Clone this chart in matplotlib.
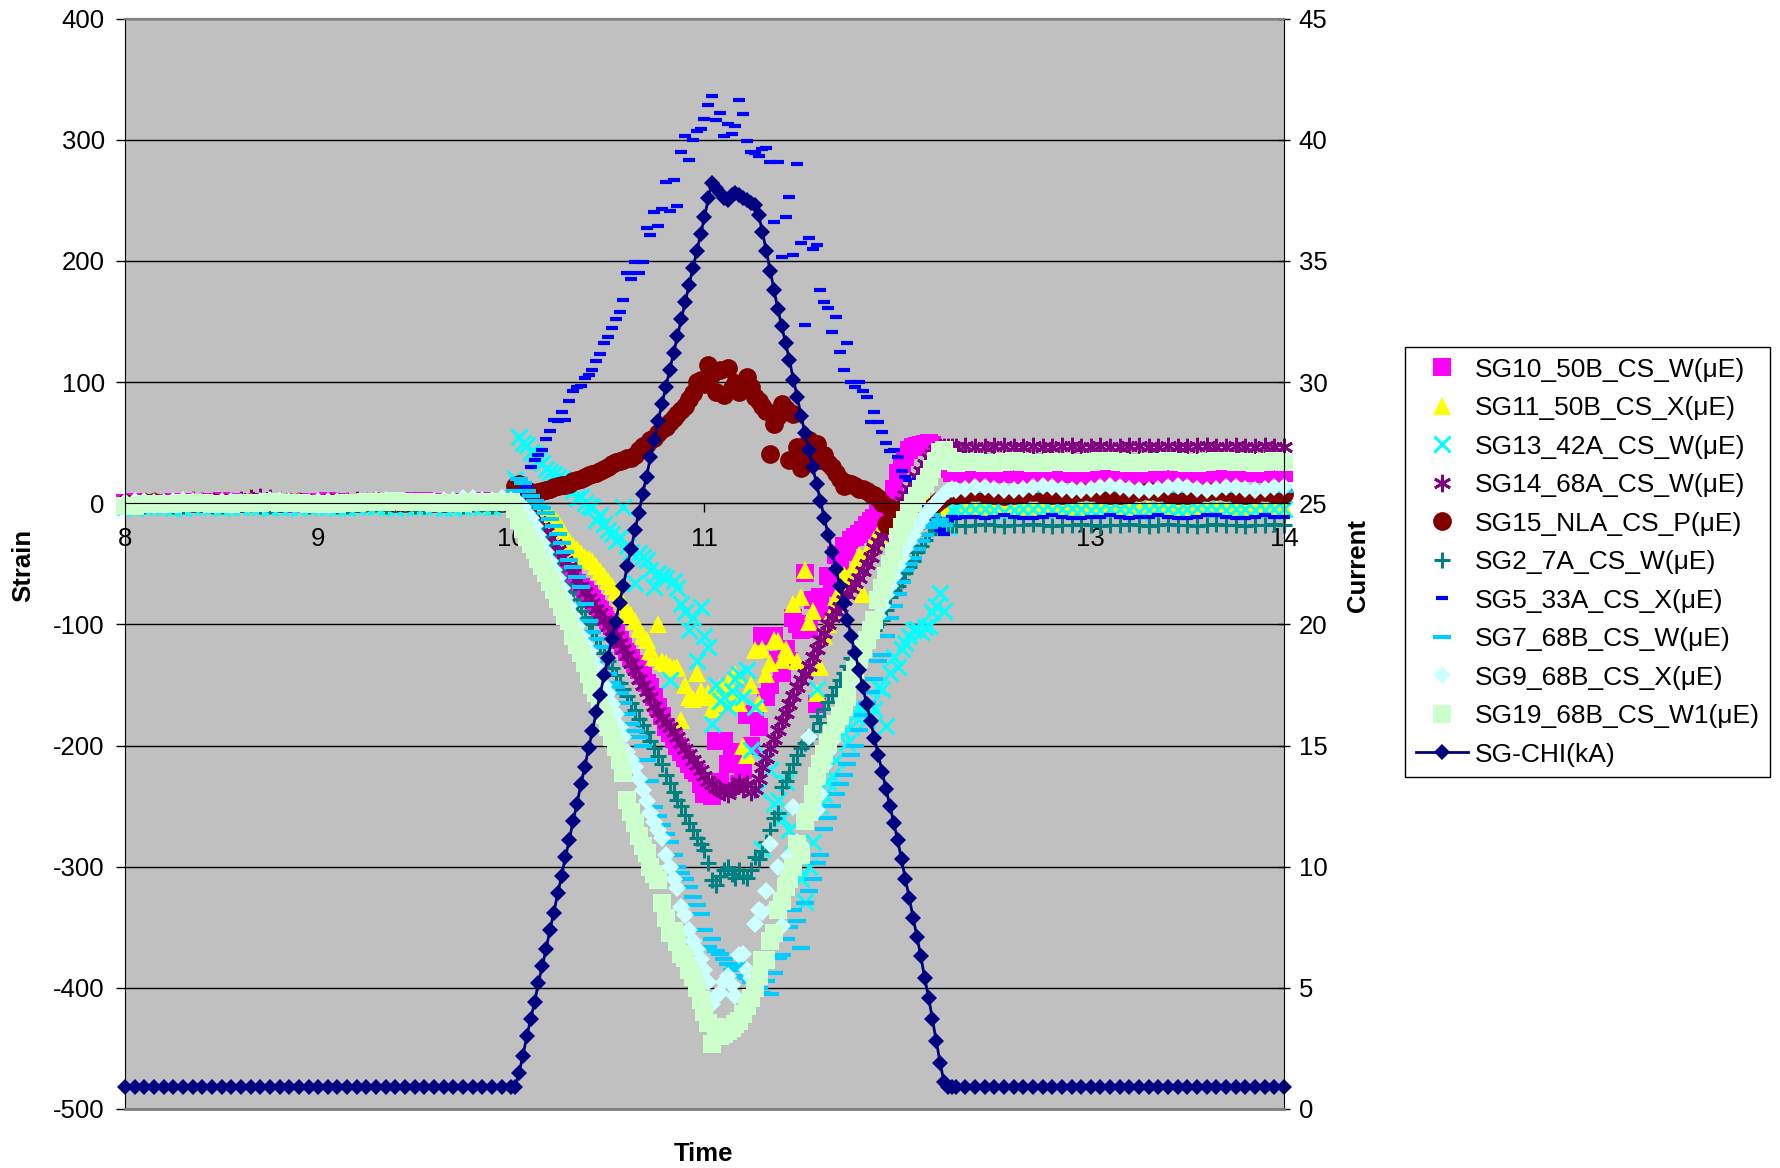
import numpy as np
import matplotlib.pyplot as plt

plt.rcParams['font.family'] = ['Liberation Sans', 'DejaVu Sans']
plt.rcParams['axes.unicode_minus'] = False

# sample times: coarse before/after the pulse, fine during it
time = np.concatenate([np.linspace(8.0, 10.0, 41),
                       np.linspace(10.02, 12.28, 114),
                       np.linspace(12.30, 14.0, 35)])

sg10 = [
    0, 1, 0, -1, 0, 1, 1, 0, 0, 1, 2, 1, 0, 0, 1, 1, 0, -1, 0, 1,
    1, 2, 1, 0, 0, 1, 1, 0, 0, 1, 2, 2, 1, 0, 0, 1, 1, 2, 1, 1, 0,
    0, -2, -4, -8, -13, -20, -26, -32, -38, -43,
    -47, -50, -53, -57, -60, -63, -66, -69, -72, -75,
    -78, -82, -87, -92, -96, -101, -106, -113, -118, -123,
    -128, -133, -138, -143, -148, -152, -160, -168, -176, -185,
    -190, -195, -200, -205, -210, -215, -220, -223, -232, -240,
    -236, -242, -196, -230, -196, -215, -205, -209, -232, -220,
    -175, -200, -174, -185, -110, -160, -150, -110, -129, -140,
    -120, -130, -95, -100, -105, -58, -104, -80, -166, -77,
    -90, -60, -70, -43, -50, -35, -40, -30, -28, -25,
    -22, -18, -15, -12, -8, -6, -3, 2, 12, 25,
    32, 38, 44, 46, 47, 48, 49, 50, 48, 45,
    40, 33, 28, 25,
    25, 24, 23, 23, 24, 25, 24, 23, 22, 23,
    24, 25, 24, 23, 23, 24, 25, 25, 24, 23,
    22, 23, 24, 24, 25, 24, 23, 23, 24, 25,
    26, 25, 24, 24, 25,
]

sg11 = [
    0, 0, -1, -1, 0, 0, -1, 0, 0, -1, -1, 0, 0, 0, -1, -1, 0, 0, 0, -1,
    0, 0, -1, -1, 0, 0, 0, -1, 0, 0, -1, -1, 0, 0, 0, -1, 0, 0, -1, 0, 0,
    0, 0, -1, -1, -2, -3, -4, -6, -8, -10,
    -12, -16, -21, -26, -31, -35, -38, -41, -44, -46,
    -48, -52, -56, -60, -64, -68, -73, -78, -83, -88,
    -92, -97, -104, -110, -113, -122, -127, -100, -130, -132,
    -134, -136, -135, -179, -150, -160, -162, -140, -155, -160,
    -157, -170, -165, -152, -160, -148, -155, -141, -165, -200,
    -208, -150, -121, -165, -120, -141, -132, -113, -114, -129,
    -120, -125, -83, -130, -77, -55, -98, -89, -157, -135,
    -110, -100, -90, -77, -75, -59, -62, -66, -50, -43,
    -75, -40, -35, -30, -25, -20, -15, -10, -6, -3,
    -2, -1, 0, 1, 2, 2, 2, 1, 0, -1,
    -2, -2, -3, -3,
    -2, -3, -3, -2, -3, -3, -4, -3, -2, -3,
    -3, -2, -3, -3, -4, -3, -3, -2, -3, -3,
    -2, -3, -3, -4, -3, -3, -2, -3, -3, -2,
    -3, -3, -4, -3, -3,
]

sg13 = [
    -3, -4, -3, -2, -3, -4, -4, -3, -2, -3, -4, -3, -3, -2, -3, -4, -3, -3, -4, -3,
    -2, -3, -4, -4, -3, -2, -3, -3, -4, -3, -3, -2, -3, -4, -4, -3, -2, -3, -3, -2, -1,
    20, 55, 50, 48, 42, 41, 36, 33, 28, 26,
    24, 22, 20, 18, 16, 10, 4, 5, 0, -2,
    -3, -14, -10, -17, -22, -25, -31, -28, -3, -35,
    -40, -66, -41, -44, -47, -55, -69, -58, -60, -62,
    -146, -64, -70, -83, -90, -105, -95, -130, -86, -110,
    -119, -182, -150, -163, -160, -168, -155, -145, -141, -160,
    -138, -204, -168, -237, -285, -208, -220, -248, -245, -260,
    -230, -270, -290, -300, -310, -329, -300, -280, -153, -250,
    -240, -230, -225, -212, -181, -190, -198, -185, -175, -168,
    -173, -179, -165, -170, -152, -153, -184, -140, -127, -135,
    -120, -115, -110, -105, -104, -106, -102, -101, -90, -85,
    -74, -89, -20, -6,
    -5, -6, -5, -5, -6, -7, -6, -5, -5, -6,
    -6, -5, -4, -5, -6, -6, -5, -5, -6, -7,
    -6, -5, -5, -6, -5, -4, -5, -6, -6, -5,
    -5, -6, -6, -5, -5,
]

sg14 = [
    1, 1, 2, 2, 1, 1, 2, 3, 2, 1, 1, 2, 3, 4, 5, 4, 3, 2, 2, 1,
    1, 1, 2, 2, 3, 2, 1, 1, 2, 2, 2, 1, 1, 2, 2, 3, 2, 1, 1, 1, 1,
    0, -1, -2, -4, -6, -10, -15, -20, -24, -29,
    -34, -39, -44, -48, -53, -58, -63, -68, -73, -78,
    -82, -87, -91, -96, -101, -105, -110, -115, -120, -125,
    -132, -138, -145, -150, -155, -160, -167, -172, -177, -181,
    -185, -189, -193, -198, -203, -207, -212, -216, -220, -225,
    -229, -232, -235, -237, -238, -240, -236, -234, -230, -236,
    -232, -238, -236, -228, -218, -210, -202, -195, -187, -180,
    -173, -166, -159, -152, -146, -141, -134, -127, -120, -113,
    -107, -100, -94, -89, -86, -80, -75, -70, -66, -62,
    -56, -50, -44, -37, -32, -27, -22, -16, -10, -4,
    2, 7, 12, 17, 22, 27, 32, 37, 41, 44,
    46, 46, 46, 46,
    46, 47, 46, 46, 47, 47, 46, 46, 47, 46,
    46, 47, 47, 46, 46, 47, 46, 46, 47, 47,
    46, 46, 47, 46, 46, 47, 47, 46, 46, 47,
    46, 46, 47, 46, 46,
]

sg15 = [
    0, 0, 1, 1, 0, 0, 1, 0, 0, 1, 1, 0, 0, 1, 1, 0, 0, 1, 1, 0,
    0, 1, 1, 0, 0, 1, 2, 1, 0, 0, 1, 1, 0, 0, 1, 1, 2, 1, 1, 0, 2,
    14, 16, 12, 10, 9, 8, 9, 10, 11, 12,
    13, 14, 15, 15, 16, 18, 19, 20, 22, 23,
    24, 25, 27, 28, 30, 32, 34, 35, 36, 37,
    37, 40, 44, 47, 49, 52, 54, 58, 61, 63,
    67, 70, 74, 77, 80, 86, 91, 100, 102, 98,
    114, 107, 92, 110, 89, 112, 95, 99, 92, 97,
    104, 96, 88, 84, 80, 76, 41, 65, 72, 82,
    78, 36, 74, 46, 29, 40, 52, 48, 49, 36,
    40, 33, 30, 25, 20, 14, 17, 16, 14, 12,
    12, 10, 8, 7, 4, 0, -17, -4, -6, -8,
    -5, -10, -12, -14, -12, -14, -10, -6, -3, 0,
    3, 5, 7, 8,
    7, 8, 9, 8, 7, 6, 7, 8, 9, 8,
    7, 7, 8, 9, 9, 8, 7, 7, 8, 9,
    10, 9, 8, 7, 7, 8, 9, 10, 9, 8,
    7, 8, 9, 8, 8,
]

sg2 = [
    -1, -1, -2, -1, -1, -2, -2, -1, -1, -2, -2, -1, -1, -1, -2, -2, -1, -1, -1, -2,
    -1, -1, -2, -2, -1, -1, -1, -2, -1, -1, -2, -2, -1, -1, -1, -2, -1, -1, -2, -1, -1,
    0, 0, -1, -3, -8, -14, -20, -27, -34, -41,
    -47, -54, -60, -67, -73, -79, -85, -89, -94, -100,
    -106, -112, -118, -124, -130, -136, -142, -148, -153, -159,
    -165, -171, -178, -183, -189, -196, -202, -209, -215, -224,
    -231, -238, -245, -250, -257, -264, -270, -276, -281, -286,
    -297, -311, -315, -308, -303, -300, -306, -309, -303, -308,
    -309, -303, -292, -294, -287, -280, -270, -260, -256, -234,
    -229, -222, -215, -208, -202, -198, -194, -188, -176, -181,
    -170, -164, -158, -152, -146, -140, -134, -128, -122, -118,
    -114, -110, -107, -105, -100, -96, -88, -77, -72, -68,
    -63, -58, -53, -48, -40, -35, -30, -25, -20, -18,
    -17, -18, -18, -18,
    -18, -19, -18, -17, -18, -19, -18, -18, -17, -18,
    -19, -18, -18, -17, -18, -19, -18, -18, -17, -18,
    -19, -18, -17, -18, -18, -19, -18, -17, -18, -18,
    -19, -18, -18, -17, -18,
]

sg5 = [
    0, 0, 1, 0, 0, 1, 1, 0, 0, 0, 1, 1, 0, 0, 0, 1, 0, 0, 1, 1,
    0, 0, 0, 1, 1, 0, 0, 1, 0, 0, 1, 1, 0, 0, 1, 1, 0, 0, 1, 2, 4,
    6, 9, 11, 14, 30, 36, 40, 44, 53, 60,
    69, 68, 75, 69, 84, 93, 96, 97, 103, 106,
    110, 117, 123, 132, 137, 145, 152, 158, 168, 190,
    185, 199, 190, 199, 227, 221, 240, 229, 243, 265,
    241, 267, 245, 290, 303, 283, 300, 307, 309, 317,
    329, 336, 316, 322, 303, 313, 305, 311, 333, 321,
    299, 290, 289, 287, 292, 293, 282, 232, 282, 203,
    236, 253, 205, 280, 215, 147, 219, 210, 213, 176,
    166, 161, 141, 154, 125, 110, 132, 100, 96, 100,
    93, 88, 67, 75, 67, 59, 50, 43, 44, 38,
    27, 22, 19, 10, 3, -2, -6, -12, -16, -20,
    -22, -25, -14, -11,
    -12, -11, -11, -12, -11, -10, -11, -12, -12, -11,
    -10, -11, -12, -12, -11, -11, -10, -11, -12, -11,
    -11, -10, -11, -12, -12, -11, -10, -10, -11, -12,
    -12, -11, -10, -11, -11,
]

sg7 = [
    1, 1, 0, 0, 1, 1, 1, 0, 0, 1, 1, 0, 0, 1, 1, 1, 0, 0, 1, 1,
    0, 0, 1, 1, 1, 0, 0, 1, 1, 0, 0, 1, 1, 1, 0, 0, 1, 1, 2, 3, 6,
    10, 20, 17, 10, 6, 2, -1, -4, -8, -13,
    -19, -25, -33, -40, -47, -53, -61, -69, -83, -97,
    -106, -112, -119, -130, -141, -148, -152, -157, -165, -174,
    -182, -188, -193, -200, -212, -229, -251, -258, -266, -273,
    -280, -290, -300, -305, -310, -317, -325, -332, -339, -352,
    -366, -360, -370, -372, -376, -380, -385, -383, -380, -390,
    -392, -395, -398, -400, -404, -394, -405, -388, -375, -373,
    -360, -350, -336, -345, -367, -330, -320, -310, -297, -290,
    -269, -260, -250, -240, -232, -224, -215, -208, -200, -187,
    -175, -165, -156, -145, -130, -125, -110, -95, -85, -75,
    -65, -55, -50, -45, -38, -31, -26, -20, -10, -16,
    -14, -18, 9, 11,
    11, 12, 11, 10, 11, 12, 11, 11, 10, 11,
    12, 11, 11, 10, 11, 12, 11, 11, 10, 11,
    12, 11, 11, 10, 11, 11, 12, 11, 10, 11,
    11, 12, 11, 11, 10,
]

sg9 = [
    1, 2, 2, 1, 1, 2, 3, 2, 1, 1, 2, 2, 1, 1, 2, 3, 3, 2, 1, 1,
    2, 2, 2, 1, 1, 2, 3, 3, 2, 2, 1, 1, 2, 3, 3, 4, 4, 3, 3, 4, 3,
    0, 0, -3, -8, -12, -19, -26, -33, -40, -48,
    -55, -62, -70, -78, -85, -93, -101, -110, -116, -122,
    -129, -135, -143, -150, -157, -166, -174, -185, -193, -205,
    -212, -218, -228, -237, -246, -256, -263, -270, -276, -290,
    -300, -310, -318, -333, -340, -352, -361, -368, -376, -385,
    -395, -413, -407, -404, -395, -390, -398, -407, -373, -372,
    -385, -392, -347, -336, -337, -320, -281, -334, -300, -349,
    -310, -291, -251, -280, -282, -256, -193, -248, -253, -240,
    -217, -205, -196, -185, -171, -165, -159, -150, -143, -135,
    -126, -118, -110, -102, -93, -85, -76, -68, -60, -52,
    -45, -38, -32, -26, -20, -15, -10, -6, -3, 0,
    4, 8, 10, 12,
    11, 12, 13, 13, 12, 11, 11, 12, 13, 14,
    13, 12, 11, 11, 12, 13, 14, 13, 12, 11,
    11, 12, 13, 14, 13, 12, 11, 12, 13, 13,
    12, 11, 12, 13, 13,
]

sg19 = [
    -2, -2, -1, -1, -1, -1, 0, 0, 0, -1, -1, -1, 0, 0, 0, 1, 0, 0, 0, -1,
    -1, -1, -1, 0, 0, 1, 1, 1, 2, 1, 1, 1, 0, 0, 0, 0, 1, 1, 1, 1, 1,
    -5, -14, -21, -28, -34, -39, -46, -52, -58, -65,
    -72, -79, -86, -93, -97, -110, -117, -124, -132, -141,
    -150, -157, -166, -175, -185, -193, -201, -212, -223, -245,
    -255, -264, -275, -283, -289, -300, -306, -311, -330, -342,
    -355, -353, -362, -372, -375, -385, -391, -400, -410, -420,
    -429, -446, -432, -440, -438, -436, -433, -430, -427, -422,
    -415, -408, -400, -390, -377, -377, -361, -355, -336, -328,
    -317, -310, -300, -281, -290, -262, -255, -240, -225, -215,
    -207, -198, -190, -182, -176, -168, -160, -146, -138, -128,
    -120, -113, -105, -96, -80, -70, -60, -50, -40, -28,
    -20, -14, -6, 0, 6, 12, 16, 22, 28, 35,
    42, 44, 38, 35,
    33, 34, 34, 33, 33, 34, 35, 34, 33, 33,
    34, 34, 33, 33, 34, 35, 35, 34, 33, 33,
    34, 34, 35, 34, 33, 33, 34, 35, 35, 34,
    34, 33, 34, 35, 34,
]

chi = [
    0.9, 0.9, 0.9, 0.9, 0.9, 0.9, 0.9, 0.9, 0.9, 0.9,
    0.9, 0.9, 0.9, 0.9, 0.9, 0.9, 0.9, 0.9, 0.9, 0.9,
    0.9, 0.9, 0.9, 0.9, 0.9, 0.9, 0.9, 0.9, 0.9, 0.9,
    0.9, 0.9, 0.9, 0.9, 0.9, 0.9, 0.9, 0.9, 0.9, 0.9, 0.9,
    0.9, 1.5, 2.2, 3.0, 3.7, 4.4, 5.2, 5.9, 6.6, 7.4,
    8.1, 8.9, 9.6, 10.4, 11.1, 11.9, 12.6, 13.4, 14.1, 14.9,
    15.6, 16.4, 17.1, 17.9, 18.6, 19.4, 20.1, 20.9, 21.6, 22.4,
    23.1, 23.9, 24.6, 25.4, 26.1, 26.9, 27.6, 28.4, 29.1, 29.8,
    30.5, 31.2, 31.9, 32.6, 33.3, 34.0, 34.7, 35.4, 36.1, 36.8,
    37.6, 38.2, 38.0, 37.8, 37.6, 37.5, 37.7, 37.8, 37.7, 37.6,
    37.5, 37.4, 37.3, 36.9, 36.2, 35.4, 34.6, 33.8, 33.0, 32.3,
    31.6, 30.9, 30.1, 29.4, 28.6, 27.9, 27.2, 26.5, 25.8, 25.1,
    24.4, 23.7, 23.0, 22.3, 21.6, 20.9, 20.2, 19.5, 18.8, 18.1,
    17.4, 16.7, 16.0, 15.3, 14.6, 13.9, 13.2, 12.5, 11.8, 11.1,
    10.3, 9.5, 8.7, 7.9, 7.1, 6.3, 5.4, 4.6, 3.7, 2.8,
    1.9, 1.1, 0.9, 0.9,
    0.9, 0.9, 0.9, 0.9, 0.9, 0.9, 0.9, 0.9, 0.9, 0.9,
    0.9, 0.9, 0.9, 0.9, 0.9, 0.9, 0.9, 0.9, 0.9, 0.9,
    0.9, 0.9, 0.9, 0.9, 0.9, 0.9, 0.9, 0.9, 0.9, 0.9,
    0.9, 0.9, 0.9, 0.9, 0.9,
]

labels = ['SG10_50B_CS_W(μE)', 'SG11_50B_CS_X(μE)', 'SG13_42A_CS_W(μE)',
          'SG14_68A_CS_W(μE)', 'SG15_NLA_CS_P(μE)', 'SG2_7A_CS_W(μE)',
          'SG5_33A_CS_X(μE)', 'SG7_68B_CS_W(μE)', 'SG9_68B_CS_X(μE)',
          'SG19_68B_CS_W1(μE)']
strain = [sg10, sg11, sg13, sg14, sg15, sg2, sg5, sg7, sg9, sg19]

# marker, colour, size, edge width
styles = [('s', '#FF00FF', 12.5, 0),
          ('^', '#FFFF00', 13.5, 0),
          ('x', '#00FFFF', 12, 2.2),
          ((6, 2, 0), '#800080', 12.5, 2),
          ('o', '#800000', 13.5, 0),
          ('+', '#008080', 11.5, 2.2),
          ('_', '#0000FF', 8, 3),
          ('_', '#00CCFF', 12.5, 3),
          ('D', '#CCFFFF', 9, 0),
          ('s', '#CCFFCC', 12.5, 0)]

for name, s in zip(labels + ['chi'], strain + [chi]):
    assert len(s) == len(time), name

fig = plt.figure(figsize=(17.81, 11.68), dpi=100)
ax = fig.add_axes([125 / 1781, 1 - 1109 / 1168, 1159 / 1781, 1090.4 / 1168])
ax.set_facecolor('#C0C0C0')
ax2 = ax.twinx()

handles = []
for lab, vals, (mk, col, ms, mew) in zip(labels, strain, styles):
    h, = ax.plot(time, vals, linestyle='none', marker=mk, color=col,
                 markersize=ms, markeredgewidth=mew, markeredgecolor=col,
                 clip_on=False, label=lab)
    handles.append(h)

h, = ax2.plot(time, chi, color='#000080', lw=2, marker='D', markersize=8,
              markerfacecolor='#000080', markeredgewidth=0, clip_on=False,
              label='SG-CHI(kA)')
handles.append(h)

ax.set_xlim(8, 14)
ax.set_ylim(-500, 400)
ax2.set_ylim(0, 45)
ax.set_xticks(range(8, 15))
ax.set_yticks(range(-500, 401, 100))
ax2.set_yticks(range(0, 46, 5))

ax.yaxis.grid(True, color='black', lw=1)
ax.set_axisbelow(True)

ax.spines['bottom'].set_position(('data', 0))
ax.spines['bottom'].set_color('black')
ax.spines['left'].set_color('black')
ax.spines['right'].set_visible(False)
ax.spines['top'].set_color('#808080')
ax.spines['top'].set_linewidth(1.5)
ax2.spines['left'].set_visible(False)
ax2.spines['right'].set_color('black')
ax2.spines['top'].set_color('#808080')
ax2.spines['top'].set_linewidth(1.5)
ax2.spines['bottom'].set_color('#808080')
ax2.spines['bottom'].set_linewidth(2)

ax.tick_params(axis='x', direction='out', length=6.3, width=1, pad=11, labelsize=18.5)
ax.tick_params(axis='y', direction='out', length=6.5, width=1, pad=8, labelsize=18.5)
ax2.tick_params(axis='y', direction='inout', length=9, width=1, pad=6, labelsize=18.5)

fig.text(23 / 1781, 1 - 565 / 1168, 'Strain', rotation=90, ha='center', va='center',
         fontsize=18.5, fontweight='bold')
fig.text(1358 / 1781, 1 - 565 / 1168, 'Current', rotation=90, ha='center', va='center',
         fontsize=18.5, fontweight='bold')
fig.text(704 / 1781, 1 - 1154 / 1168, 'Time', ha='center', va='center',
         fontsize=18.5, fontweight='bold')

leg = fig.legend(handles=handles, loc='upper left',
                 bbox_to_anchor=(1405 / 1781, 1 - 347 / 1168),
                 bbox_transform=fig.transFigure, fontsize=19, frameon=True,
                 fancybox=False, edgecolor='black', framealpha=1,
                 borderpad=0.4, labelspacing=0.55, handlelength=2.0,
                 handletextpad=0.25, borderaxespad=0, numpoints=1)
leg.get_frame().set_linewidth(1)

fig.savefig('out.png', dpi=100)
